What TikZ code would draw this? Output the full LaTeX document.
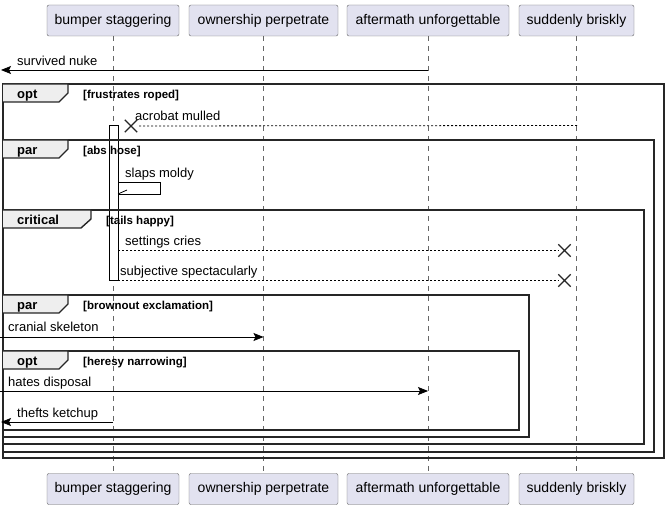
\documentclass[tikz,border=0pt]{standalone}
\usepackage{fontspec}
\setmainfont{Liberation Sans}
\usetikzlibrary{arrows.meta,positioning,shapes.misc}

\definecolor{boxblue}{HTML}{E2E2F0}
\definecolor{tabgrey}{HTML}{EEEEEE}

\tikzset{
  actor/.style={draw=gray!80!black, fill=boxblue, rounded corners=2pt, minimum height=31pt, inner sep=0pt, font=\fontsize{14}{16}\selectfont},
  lifeline/.style={draw=gray!80!black, dash pattern=on 5pt off 5pt, line width=0.6pt},
  msg/.style={-{Stealth[length=10pt,width=8pt,inset=2pt]}, line width=0.8pt},
  reply/.style={line width=0.8pt, dash pattern=on 2pt off 2pt},
  msglabel/.style={anchor=base west, inner sep=0pt, font=\fontsize{13}{15}\selectfont},
  frame/.style={draw=black!85, line width=1.4pt},
  tab/.style={frame, fill=tabgrey},
  kind/.style={anchor=base west, inner sep=0pt, font=\fontsize{13}{15}\bfseries\selectfont},
  guard/.style={anchor=base west, inner sep=0pt, font=\fontsize{11.5}{13}\bfseries\selectfont},
  kill/.style={cross out, draw=black!85, line width=1.4pt, minimum size=11pt, inner sep=0pt},
}

\begin{document}
\begin{tikzpicture}[x=1pt,y=-1pt]
        \useasboundingbox (0,0) rectangle (669,510);

        % top participants
        \node[actor, minimum width=132pt] (topBumper) at (113,20.5) {bumper staggering};
        \node[actor, minimum width=149pt] (topOwner) at (263.5,20.5) {ownership perpetrate};
        \node[actor, minimum width=162pt] (topAfter) at (428,20.5) {aftermath unforgettable};
        \node[actor, minimum width=115pt] (topBrisk) at (576.5,20.5) {suddenly briskly};

        % bottom participants
        \node[actor, minimum width=132pt] (botBumper) at (113,489) {bumper staggering};
        \node[actor, minimum width=149pt] (botOwner) at (263.5,489) {ownership perpetrate};
        \node[actor, minimum width=162pt] (botAfter) at (428,489) {aftermath unforgettable};
        \node[actor, minimum width=115pt] (botBrisk) at (576.5,489) {suddenly briskly};

        % lifelines
        \draw[lifeline] (topBumper) -- (botBumper);
        \draw[lifeline] (topOwner) -- (botOwner);
        \draw[lifeline] (topAfter) -- (botAfter);
        \draw[lifeline] (topBrisk) -- (botBrisk);

        % activation on bumper staggering
        \draw[fill=white, line width=0.8pt] (109,125) rectangle (118,280);

        % ================== Frames ==================
        \draw[frame] (3,84) rectangle (664,458);
        \draw[tab] (3,84) -- (68,84) -- (68,93) -- (59,102) -- (3,102);
        \node[kind] (optOuter) at (17,98.5) {opt};
        \node[guard] (optOuterGuard) at (83,98.5) {[frustrates roped]};

        \draw[frame] (3,140) rectangle (654,452);
        \draw[tab] (3,140) -- (68,140) -- (68,149) -- (59,158) -- (3,158);
        \node[kind] (parOuter) at (17,154.5) {par};
        \node[guard] (parOuterGuard) at (83,154.5) {[abs hose]};

        \draw[frame] (3,210) rectangle (644,444);
        \draw[tab] (3,210) -- (91,210) -- (91,219) -- (81,228) -- (3,228);
        \node[kind] (critical) at (17,224.5) {critical};
        \node[guard] (criticalGuard) at (106,224.5) {[tails happy]};

        \draw[frame] (3,295) rectangle (529,437);
        \draw[tab] (3,295) -- (68,295) -- (68,304) -- (59,313) -- (3,313);
        \node[kind] (parInner) at (17,309.5) {par};
        \node[guard] (parInnerGuard) at (83,309.5) {[brownout exclamation]};

        \draw[frame] (3,351) rectangle (519,430);
        \draw[tab] (3,351) -- (68,351) -- (68,360) -- (59,369) -- (3,369);
        \node[kind] (optInner) at (17,365.5) {opt};
        \node[guard] (optInnerGuard) at (83,365.5) {[heresy narrowing]};
        % ============================================

        % end points of the messages
        \coordinate (nukeFrom) at (428,70);
        \coordinate (nukeTo) at (1,70);
        \coordinate (acrobatFrom) at (577,125.5);
        \coordinate (slapsFrom) at (118,182);
        \coordinate (slapsTo) at (118,194);
        \coordinate (settingsFrom) at (118,250.5);
        \coordinate (subjFrom) at (118,280.5);
        \coordinate (cranialFrom) at (0,337);
        \coordinate (cranialTo) at (263.5,337);
        \coordinate (hatesFrom) at (0,391);
        \coordinate (hatesTo) at (428,391);
        \coordinate (theftsFrom) at (113,422);
        \coordinate (theftsTo) at (1,422);

        % destroy marks
        \node[kill] (killAcrobat) at (131,126) {};
        \node[kill] (killSettings) at (564.5,250.5) {};
        \node[kill] (killSubj) at (564.5,280.5) {};

        % messages
        \draw[msg] (nukeFrom) -- (nukeTo);
        \node[msglabel] (nukeText) at (17,65.5) {survived nuke};

        \draw[reply] (acrobatFrom) -- (killAcrobat);
        \node[msglabel] (acrobatText) at (135,121) {acrobat mulled};

        \draw[line width=0.8pt] (slapsFrom) -- ++(42,0) -- ++(0,12) -- (slapsTo);
        \draw[line width=0.8pt] (slapsTo) -- ++(9,-4);
        \node[msglabel] (slapsText) at (125,177.5) {slaps moldy};

        \draw[reply] (settingsFrom) -- (killSettings);
        \node[msglabel] (settingsText) at (125,246) {settings cries};

        \draw[reply] (subjFrom) -- (killSubj);
        \node[msglabel] (subjText) at (120,276) {subjective spectacularly};

        \draw[msg] (cranialFrom) -- (cranialTo);
        \node[msglabel] (cranialText) at (8,332) {cranial skeleton};

        \draw[msg] (hatesFrom) -- (hatesTo);
        \node[msglabel] (hatesText) at (8,386.5) {hates disposal};

        \draw[msg] (theftsFrom) -- (theftsTo);
        \node[msglabel] (theftsText) at (17,417) {thefts ketchup};
\end{tikzpicture}
\end{document}
